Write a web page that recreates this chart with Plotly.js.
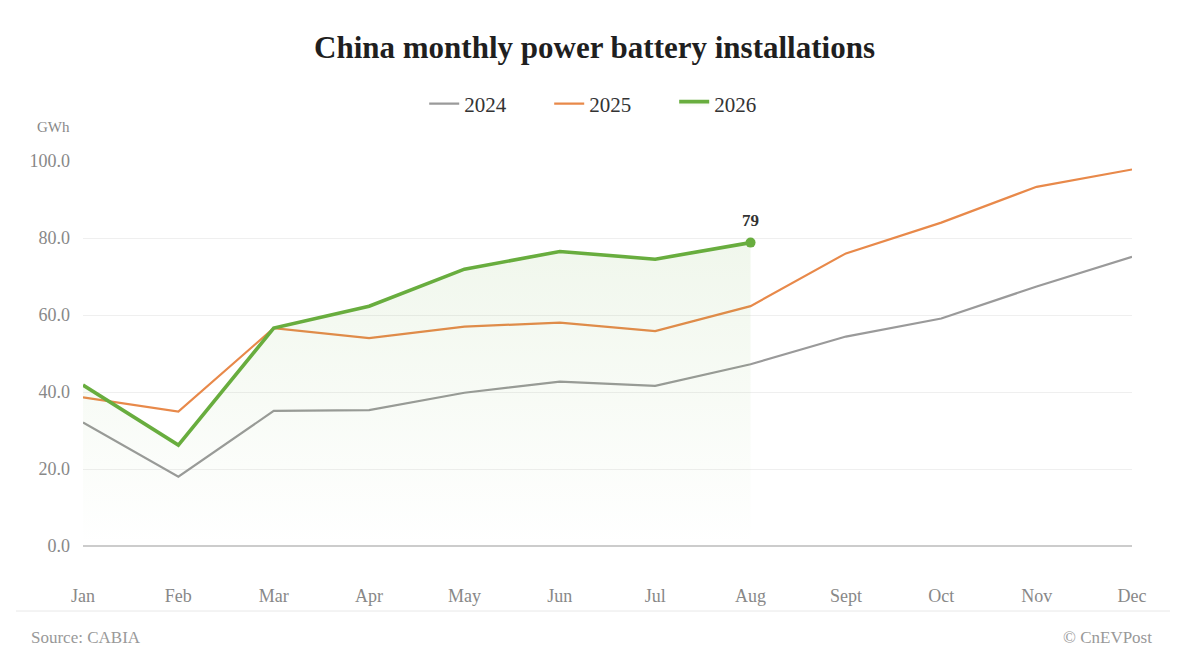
<!DOCTYPE html>
<html>
<head>
<meta charset="utf-8">
<script src="https://cdn.plot.ly/plotly-3.0.1.min.js"></script>
<style>html,body{margin:0;padding:0;background:#fff;}#chart{width:1189px;height:669px;}</style>
</head>
<body>
<div id="chart"></div>
<script>
const months = ["Jan","Feb","Mar","Apr","May","Jun","Jul","Aug","Sept","Oct","Nov","Dec"];
const y2024 = [32.1, 18.0, 35.1, 35.3, 39.8, 42.7, 41.6, 47.2, 54.4, 59.1, 67.4, 75.1];
const y2025 = [38.6, 34.9, 56.6, 54.0, 57.0, 58.0, 55.8, 62.3, 76.0, 84.0, 93.3, 97.8];
const y2026 = [41.8, 26.2, 56.6, 62.3, 71.9, 76.5, 74.5, 78.8];
const yTickVals = [0, 20, 40, 60, 80, 100];

const serif = "Liberation Serif, Times New Roman, serif";
const last = y2026.length - 1;
const months2026 = months.slice(0, y2026.length);

const traces = [
  {
    x: months, y: y2024, name: "2024", type: "scatter", mode: "lines",
    line: {color: "#9a9a9a", width: 2.2}, hoverinfo: "skip"
  },
  {
    x: months, y: y2025, name: "2025", type: "scatter", mode: "lines",
    line: {color: "#e8894a", width: 2.2}, hoverinfo: "skip"
  },
  {
    x: months2026, y: y2026, name: "2026", type: "scatter",
    mode: "lines",
    line: {color: "#68ad3e", width: 3.6},
    fill: "tozeroy",
    fillgradient: {
      type: "vertical", start: 0, stop: 80,
      colorscale: [[0, "rgba(104,173,62,0)"], [1, "rgba(104,173,62,0.10)"]]
    },
    hoverinfo: "skip"
  },
  {
    x: [months2026[last]], y: [y2026[last]], name: "2026 latest", type: "scatter",
    mode: "markers", showlegend: false,
    marker: {color: "#68ad3e", size: 10},
    hoverinfo: "skip"
  }
];

const layout = {
  width: 1189, height: 669,
  margin: {l: 83, r: 57, t: 161, b: 123, pad: 0},
  paper_bgcolor: "#ffffff", plot_bgcolor: "#ffffff",
  font: {family: serif, color: "#888888"},
  title: {
    text: "<b>China monthly power battery installations</b>",
    font: {family: serif, size: 31, color: "#1f1f1f"},
    x: 0.5, xanchor: "center", xref: "container",
    y: 1 - 47 / 669, yanchor: "middle", yref: "container"
  },
  showlegend: true,
  legend: {
    orientation: "h", x: 0.504, xanchor: "center",
    yref: "container", y: 1 - 104 / 669, yanchor: "middle",
    font: {family: serif, size: 21, color: "#333333"},
    entrywidth: 80, entrywidthmode: "pixels",
    traceorder: "normal", bgcolor: "rgba(0,0,0,0)"
  },
  xaxis: {
    type: "category", categoryorder: "array", categoryarray: months,
    range: [0, months.length - 1],
    showgrid: false, zeroline: false, showline: false,
    ticks: "", tickfont: {family: serif, size: 18, color: "#888888"},
    ticklabelstandoff: 37, fixedrange: true
  },
  yaxis: {
    range: [0, 100], tickvals: yTickVals, tickformat: ".1f",
    showgrid: true, gridcolor: "#efefef", gridwidth: 1,
    zeroline: true, zerolinecolor: "#cccccc", zerolinewidth: 1.5,
    showline: false, ticks: "",
    tickfont: {family: serif, size: 18, color: "#888888"},
    ticklabelstandoff: 12, fixedrange: true
  },
  shapes: [
    {
      type: "line", xref: "paper", yref: "paper",
      x0: (16 - 83) / 1049, x1: (1170 - 83) / 1049,
      y0: (546 - 611) / 385, y1: (546 - 611) / 385,
      line: {color: "#e8e8e8", width: 1}
    }
  ],
  annotations: [
    {
      text: "<b>" + String(Math.round(y2026[last])) + "</b>",
      x: months2026[last], y: y2026[last], xref: "x", yref: "y",
      yanchor: "bottom", yshift: 11, showarrow: false,
      font: {family: serif, size: 17, color: "#333333"}
    },
    {
      text: "GWh", xref: "paper", yref: "paper",
      x: (72 - 83) / 1049, xanchor: "right",
      y: (546 - 127) / 385, yanchor: "middle",
      showarrow: false, font: {family: serif, size: 15, color: "#888888"}
    },
    {
      text: "Source: CABIA", xref: "paper", yref: "paper",
      x: (29 - 83) / 1049, xanchor: "left",
      y: (546 - 637) / 385, yanchor: "middle",
      showarrow: false, font: {family: serif, size: 17, color: "#999999"}
    },
    {
      text: "© CnEVPost", xref: "paper", yref: "paper",
      x: (1154 - 83) / 1049, xanchor: "right",
      y: (546 - 637) / 385, yanchor: "middle",
      showarrow: false, font: {family: serif, size: 17, color: "#999999"}
    }
  ],
  hovermode: false
};

Plotly.newPlot("chart", traces, layout, {displayModeBar: false, staticPlot: true});
</script>
</body>
</html>
